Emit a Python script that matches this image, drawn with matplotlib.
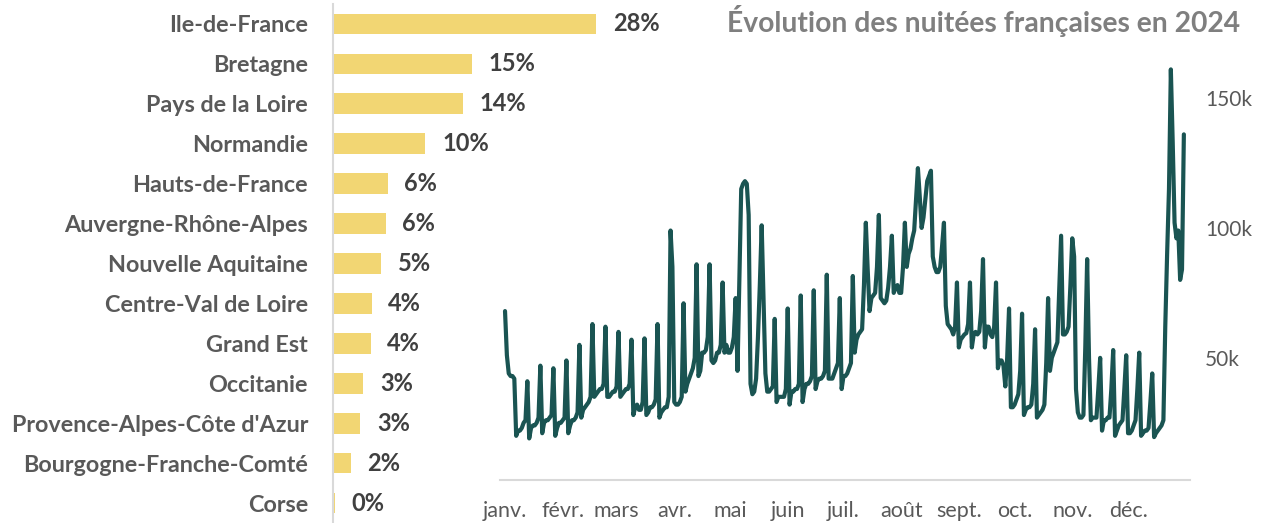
import matplotlib
matplotlib.use("Agg")
import matplotlib.pyplot as plt
import numpy as np
import pandas as pd

# ---------------- data ----------------
regions = ["Ile-de-France", "Bretagne", "Pays de la Loire", "Normandie",
           "Hauts-de-France", "Auvergne-Rhône-Alpes", "Nouvelle Aquitaine",
           "Centre-Val de Loire", "Grand Est", "Occitanie",
           "Provence-Alpes-Côte d'Azur", "Bourgogne-Franche-Comté", "Corse"]
shares = [27.9, 14.7, 13.8, 9.8, 5.8, 5.6, 5.1, 4.1, 4.0, 3.2, 2.9, 1.9, 0.2]

# daily French overnight stays 2024 (thousands), one row per week (Mon..Sun)
nights_k = [
    68, 51, 44, 43, 43, 42, 20,
    22, 22, 23, 25, 26, 41, 19,
    23, 24, 24, 25, 27, 47, 21,
    25, 26, 26, 27, 28, 46, 20,
    23, 25, 25, 26, 27, 49, 21,
    24, 26, 26, 27, 29, 55, 27,
    30, 31, 32, 33, 35, 63, 35,
    36, 37, 38, 38, 40, 62, 35,
    35, 36, 37, 37, 39, 60, 35,
    36, 37, 38, 38, 40, 57, 28,
    31, 32, 30, 30, 33, 57.5, 28,
    29, 31, 31, 32, 34, 63, 27,
    29, 30, 31, 31, 35, 99, 85,
    33, 32, 32, 33, 35, 71, 37,
    40, 42, 44, 46, 50, 86, 43,
    45, 52, 52, 53, 58, 86, 49,
    48, 49, 52, 52, 55, 79, 52,
    55, 52, 52, 54, 58, 73, 45,
    80, 115, 117, 118, 117, 105, 40,
    36, 37, 42, 58, 78, 101, 73,
    44, 37, 37, 38, 39, 65, 33,
    35, 35, 35, 35, 38, 69, 32,
    37, 37, 38, 38, 40, 74, 33,
    38, 40, 40, 41, 43, 76, 38,
    41, 42, 42, 43, 45, 82, 42,
    42, 42, 44, 46, 48, 73, 38,
    43, 43, 44, 46, 48, 81.5, 52,
    57, 59, 60, 61, 78, 102, 84,
    68, 73, 74, 75, 85, 105, 73,
    72, 71, 72, 77, 85, 97, 75,
    77, 78, 75, 75, 85, 102, 85,
    90, 92, 96, 99, 111, 123, 112,
    100, 104, 111, 118, 120, 122, 89,
    85, 83, 83, 85, 93, 102, 70,
    63, 62, 61, 59, 62, 79, 54,
    57, 58, 59, 59.5, 63, 79, 54,
    59, 60, 59, 60, 68, 88, 54,
    62, 62, 59, 58, 62, 79, 46,
    49, 49, 47, 39, 50, 69, 31,
    31, 32, 34, 36, 45, 67, 28,
    30, 31, 31, 32, 40, 61, 27,
    28, 29, 30, 32, 48, 73, 45,
    50, 52, 54, 56, 77, 97, 59,
    59, 60, 62, 78, 96, 89, 38,
    29, 27, 27, 28, 54, 88, 50,
    26, 27, 27, 27, 38, 50, 22,
    26, 26, 27, 27, 38, 53, 20,
    22, 24, 25, 26, 38, 51, 21,
    21, 22, 24, 26, 38, 52, 20,
    21, 22, 22, 23, 33, 44, 19.5,
    21, 22, 23, 24, 26, 62, 90,
    115, 161, 133, 102, 96, 99, 80,
    84, 136,
]
month_labels = ["janv.", "févr.", "mars", "avr.", "mai", "juin",
                "juil.", "août", "sept.", "oct.", "nov.", "déc."]
y_ticks = [50, 100, 150]
y_tick_labels = ["50k", "100k", "150k"]
title = "Évolution des nuitées françaises en 2024"

# ---------------- style ----------------
FONT = ["Lato", "DejaVu Sans"]
plt.rcParams["font.family"] = FONT
W, H = 1267, 523
fig = plt.figure(figsize=(W / 100, H / 100), dpi=100)

BAR_COLOR = "#F2D673"
LINE_COLOR = "#1A5452"
LABEL_GREY = "#595959"
VALUE_GREY = "#404040"
AXIS_GREY = "#D9D9D9"

# ---------------- line chart (drawn first, transparent background) ----------------
dates = pd.date_range("2024-01-01", periods=len(nights_k), freq="D")
days = np.arange(len(nights_k))
month_starts = [i for i, d in enumerate(dates) if d.day == 1]

ax2 = fig.add_axes([500 / W, 1 - 480 / H, 690 / W, (480 - 59) / H])
ax2.patch.set_visible(False)
ax2.plot(days, nights_k, color=LINE_COLOR, linewidth=3.0, solid_joinstyle="round",
         solid_capstyle="round")
ax2.set_xlim(-2.7, 368.3)
ax2.set_ylim(3, 165)
ax2.yaxis.tick_right()
ax2.set_yticks(y_ticks)
ax2.set_yticklabels(y_tick_labels, fontsize=15, color=LABEL_GREY)
ax2.tick_params(axis="y", length=0, pad=11)
ax2.set_xticks(month_starts)
ax2.set_xticklabels(month_labels, fontsize=15.5, color=LABEL_GREY)
ax2.tick_params(axis="x", length=0, pad=15)
for s in ["top", "right", "left"]:
    ax2.spines[s].set_visible(False)
ax2.spines["bottom"].set_color(AXIS_GREY)
ax2.spines["bottom"].set_linewidth(1.5)

# ---------------- bar chart ----------------
ax1 = fig.add_axes([333 / W, 0, (700 - 333) / W, 519 / H])
ax1.patch.set_visible(False)
ypos = np.arange(len(regions))
ax1.barh(ypos, shares, height=0.52, color=BAR_COLOR)
ax1.set_ylim(len(regions) - 0.5, -0.5)
ax1.set_xlim(0, (700 - 333) / 9.43)
ax1.set_yticks(ypos)
ax1.set_yticklabels(regions, fontsize=16.8, fontweight="bold", color=LABEL_GREY)
ax1.tick_params(axis="y", length=0, pad=18)
ax1.set_xticks([])
for s in ["top", "right", "bottom"]:
    ax1.spines[s].set_visible(False)
ax1.spines["left"].set_color(AXIS_GREY)
ax1.spines["left"].set_linewidth(1.5)
for y, v in zip(ypos, shares):
    ax1.annotate(f"{v:.0f}%", xy=(v, y), xytext=(12, 0), textcoords="offset points",
                 ha="left", va="center", fontsize=17, fontweight="bold", color=VALUE_GREY,
                 annotation_clip=False)

fig.text(1240 / W, 1 - 21 / H, title, ha="right", va="center", fontsize=20.3,
         fontweight="bold", color="#7F7F7F")

fig.savefig("out.png", dpi=100)
